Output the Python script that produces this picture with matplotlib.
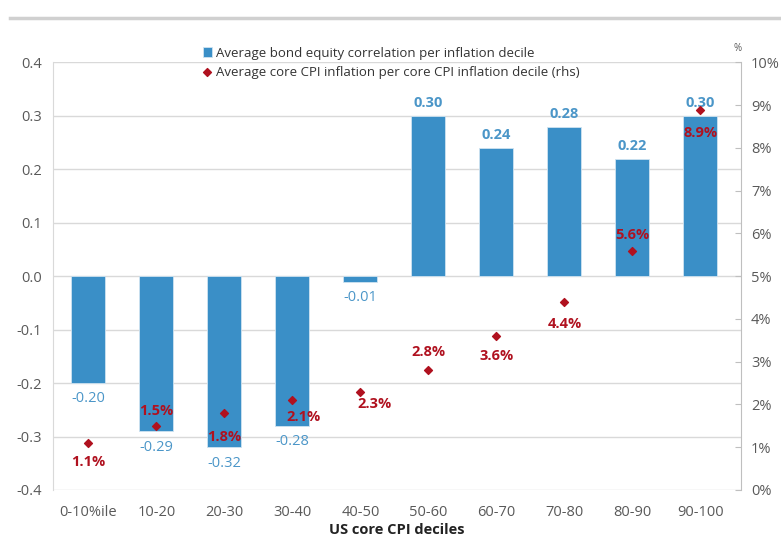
import matplotlib.pyplot as plt
import numpy as np

plt.rcParams['font.family'] = ['Open Sans', 'DejaVu Sans']

deciles = ["0-10%ile", "10-20", "20-30", "30-40", "40-50",
           "50-60", "60-70", "70-80", "80-90", "90-100"]
correlation = [-0.20, -0.29, -0.32, -0.28, -0.01, 0.30, 0.24, 0.28, 0.22, 0.30]
core_cpi = [1.1, 1.5, 1.8, 2.1, 2.3, 2.8, 3.6, 4.4, 5.6, 8.9]
left_ticks = [-0.4, -0.3, -0.2, -0.1, 0.0, 0.1, 0.2, 0.3, 0.4]
left_tick_labels = ["-0.4", "-0.3", "-0.2", "-0.1", "0.0", "0.1", "0.2", "0.3", "0.4"]

# where each cpi label sits relative to its marker (pixel offsets)
cpi_label_offsets = [(0, -14), (0, 11), (0, -17), (8, -12), (10, -9),
                     (0, 13), (0, -14), (0, -16), (0, 11), (0, -17)]

bar_color = "#3a8fc7"
label_blue = "#4b96c8"
red = "#b0111f"
grey = "#595959"

fig = plt.figure(figsize=(7.81, 5.41), dpi=100)
ax1 = fig.add_axes([0.068, 0.0943, 0.881, 0.7902])
ax2 = ax1.twinx()

x = np.arange(len(deciles))
ax1.bar(x, correlation, width=0.5, color=bar_color, edgecolor="#cfe3f1",
        linewidth=0.6, zorder=2,
        label="Average bond equity correlation per inflation decile")
for xi, v in zip(x, correlation):
    if v >= 0:
        ax1.annotate(f"{v:.2f}", (xi, v), xytext=(0, 4), textcoords="offset points",
                     ha="center", va="bottom", color=label_blue, fontsize=10.5,
                     fontweight="bold")
    else:
        ax1.annotate(f"{v:.2f}", (xi, v), xytext=(0, -6), textcoords="offset points",
                     ha="center", va="top", color=label_blue, fontsize=10.5)

ax2.scatter(x, core_cpi, marker="D", s=16, color=red, zorder=3,
            label="Average core CPI inflation per core CPI inflation decile (rhs)")
for xi, v, (dx, dy) in zip(x, core_cpi, cpi_label_offsets):
    ax2.annotate(f"{v:.1f}%", (xi, v), xytext=(dx, dy), textcoords="offset points",
                 ha="center", va="center", color=red, fontsize=10.5, fontweight="bold")

ax1.set_ylim(-0.4, 0.4)
ax1.set_yticks(left_ticks)
ax1.set_yticklabels(left_tick_labels)
ax1.set_xlim(-0.52, 9.6)
ax1.set_xticks(x)
ax1.set_xticklabels(deciles)
ax1.grid(axis="y", color="#d9d9d9", linewidth=1, zorder=0)
ax1.set_axisbelow(True)
ax1.tick_params(axis="both", length=0, colors=grey, labelsize=10.5, pad=8)
ax1.tick_params(axis="x", pad=11)
ax1.set_xlabel("US core CPI deciles", fontsize=10.5, fontweight="bold",
               color="#222222", labelpad=2)

ax2.set_ylim(0, 10)
ax2.set_yticks(range(0, 11))
ax2.set_yticklabels([f"{t}%" for t in range(0, 11)])
ax2.tick_params(axis="y", direction="in", length=4, color="#bfbfbf", colors=grey,
                labelsize=10.5, pad=7)

for ax in (ax1, ax2):
    for side in ("top", "bottom"):
        ax.spines[side].set_visible(False)
ax1.spines["right"].set_visible(False)
ax1.spines["left"].set_color("#d9d9d9")
ax2.spines["left"].set_visible(False)
ax2.spines["right"].set_color("#bfbfbf")

fig.text(0.945, 0.905, "%", fontsize=7, color=grey, ha="center")

h1, l1 = ax1.get_legend_handles_labels()
h2, l2 = ax2.get_legend_handles_labels()
ax1.legend(h1 + h2, l1 + l2, loc="upper left", bbox_to_anchor=(0.2, 1.065),
           frameon=False, fontsize=9.5, handlelength=0.7, handletextpad=0.3,
           labelspacing=0.45, labelcolor="#333333")

# remains of the header line above the chart
fig.add_artist(plt.Line2D([0.013, 1.0], [0.967, 0.967], color="#d0d0d0", linewidth=2.5))

fig.savefig("out.png", dpi=100)
